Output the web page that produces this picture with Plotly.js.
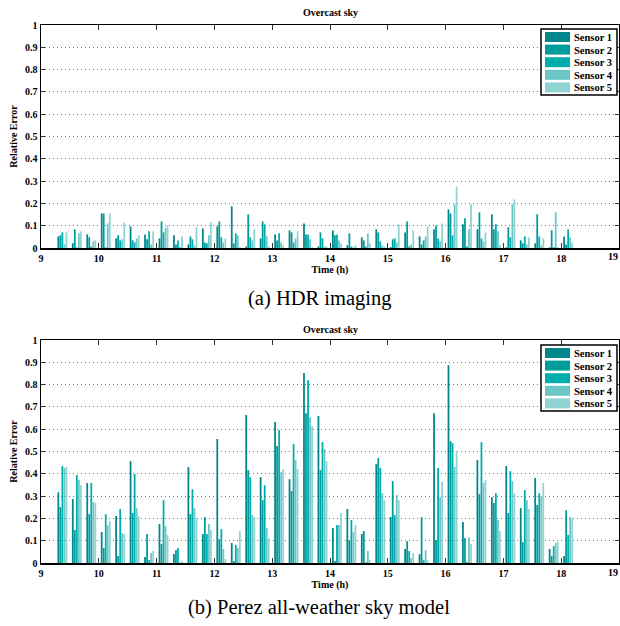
<!DOCTYPE html>
<html>
<head>
<meta charset="utf-8">
<script src="https://cdn.plot.ly/plotly-3.0.1.min.js"></script>
<style>html,body{margin:0;padding:0;background:#fff;}#chart{width:620px;height:626px;}</style>
</head>
<body>
<div id="chart"></div>
<script>
// ---- data ----
const times = [9.37, 9.62, 9.87, 10.12, 10.37, 10.62, 10.87, 11.12, 11.37, 11.62, 11.87, 12.12,
  12.37, 12.62, 12.87, 13.12, 13.37, 13.62, 13.87, 14.12, 14.37, 14.62, 14.87, 15.12,
  15.37, 15.62, 15.87, 16.12, 16.37, 16.62, 16.87, 17.12, 17.37, 17.62, 17.87, 18.12];

const sensorNames = ["Sensor 1", "Sensor 2", "Sensor 3", "Sensor 4", "Sensor 5"];

// (a) HDR imaging
const hdrS1 = [0.052,0.021,0.061,0.155,0.043,0.097,0.061,0.043,0.057,0.016,0.088,0.097,0.187,0.007,0.043,0.061,0.079,0.110,0.007,0.079,0.012,0.048,0.084,0.004,0.070,0.052,0.084,0.173,0.106,0.084,0.151,0.003,0.034,0.021,0.003,0.052];
const hdrS2 = [0.057,0.084,0.048,0.155,0.057,0.034,0.039,0.119,0.016,0.052,0.025,0.119,0.021,0.151,0.119,0.034,0.070,0.061,0.070,0.057,0.066,0.034,0.070,0.039,0.119,0.016,0.101,0.155,0.133,0.160,0.084,0.093,0.021,0.151,0.079,0.016];
const hdrS3 = [0.070,0.002,0.007,0.003,0.034,0.025,0.075,0.070,0.034,0.039,0.021,0.048,0.066,0.048,0.106,0.066,0.025,0.061,0.043,0.061,0.007,0.007,0.030,0.043,0.007,0.034,0.043,0.057,0.007,0.043,0.106,0.048,0.052,0.052,0.004,0.084];
const hdrS4 = [0.016,0.066,0.030,0.110,0.039,0.043,0.016,0.088,0.004,0.012,0.057,0.025,0.057,0.034,0.052,0.025,0.043,0.039,0.007,0.034,0.003,0.066,0.012,0.025,0.016,0.052,0.030,0.196,0.084,0.030,0.075,0.196,0.016,0.012,0.160,0.048];
const hdrS5 = [0.070,0.075,0.034,0.155,0.115,0.057,0.075,0.101,0.052,0.093,0.115,0.043,0.004,0.084,0.007,0.012,0.075,0.003,0.007,0.021,0.012,0.021,0.007,0.106,0.079,0.097,0.110,0.276,0.196,0.070,0.016,0.218,0.048,0.043,0.004,0.025];

// (b) Perez all-weather sky model
const perezS1 = [0.317,0.287,0.359,0.139,0.211,0.457,0.027,0.175,0.040,0.430,0.130,0.556,0.090,0.664,0.385,0.632,0.376,0.852,0.659,0.157,0.242,0.130,0.443,0.206,0.063,0.040,0.672,0.887,0.184,0.462,0.295,0.435,0.246,0.381,0.063,0.031];
const perezS2 = [0.251,0.148,0.219,0.067,0.031,0.224,0.130,0.085,0.058,0.219,0.206,0.107,0.009,0.417,0.282,0.525,0.323,0.672,0.417,0.009,0.103,0.143,0.471,0.367,0.098,0.206,0.103,0.547,0.112,0.309,0.269,0.224,0.094,0.260,0.031,0.237];
const perezS3 = [0.435,0.394,0.359,0.219,0.242,0.399,0.013,0.282,0.067,0.331,0.130,0.152,0.081,0.385,0.349,0.596,0.533,0.820,0.542,0.170,0.193,0.003,0.426,0.215,0.054,0.013,0.426,0.538,0.004,0.542,0.313,0.412,0.327,0.313,0.076,0.126];
const perezS4 = [0.426,0.372,0.273,0.170,0.134,0.246,0.045,0.165,0.002,0.246,0.175,0.063,0.067,0.215,0.157,0.408,0.462,0.654,0.511,0.170,0.139,0.054,0.313,0.305,0.022,0.058,0.295,0.430,0.116,0.359,0.193,0.367,0.282,0.300,0.090,0.206];
const perezS5 = [0.430,0.349,0.269,0.188,0.130,0.211,0.054,0.126,0.009,0.201,0.148,0.018,0.143,0.206,0.112,0.421,0.421,0.614,0.457,0.224,0.170,0.013,0.282,0.282,0.045,0.013,0.363,0.502,0.085,0.372,0.143,0.313,0.242,0.359,0.094,0.201];

const yTickVals = [0,0.1,0.2,0.3,0.4,0.5,0.6,0.7,0.8,0.9,1];
const xTickVals = [9,10,11,12,13,14,15,16,17,18,19];

// ---- styles ----
const colors = ["#00868b", "#009c9c", "#00adad", "#6cc6c6", "#8fd3d3"];
const SERIF = "Liberation Serif, Times New Roman, serif";
const W = 620, H = 626;
const X = p => p / W;
const Y = p => 1 - p / H;

const hdr = [hdrS1, hdrS2, hdrS3, hdrS4, hdrS5];
const perez = [perezS1, perezS2, perezS3, perezS4, perezS5];

const traces = [];
hdr.forEach((vals, i) => traces.push({
  type: "bar", x: times, y: vals, name: sensorNames[i], xaxis: "x", yaxis: "y",
  marker: {color: colors[i], line: {width: 0}}, showlegend: false
}));
perez.forEach((vals, i) => traces.push({
  type: "bar", x: times, y: vals, name: sensorNames[i], xaxis: "x2", yaxis: "y2",
  marker: {color: colors[i], line: {width: 0}}, showlegend: false
}));

const tickFont = {family: SERIF, size: 10, color: "#000", weight: "bold"};
function xAxis(anchor, dom) {
  return {
    domain: dom, anchor: anchor, range: [9, 19], tickvals: xTickVals,
    showline: true, linecolor: "#000", linewidth: 1.5, mirror: "ticks",
    ticks: "inside", ticklen: 5, tickwidth: 1, tickcolor: "#333",
    tickfont: tickFont, showgrid: false, zeroline: false,
    title: {text: "Time (h)", font: {family: SERIF, size: 10, color: "#000", weight: "bold"}, standoff: 2}
  };
}
function yAxis(anchor, dom) {
  return {
    domain: dom, anchor: anchor, range: [0, 1], tickvals: yTickVals,
    showline: true, linecolor: "#000", linewidth: 1.5, mirror: "ticks",
    ticks: "inside", ticklen: 4, tickwidth: 1, tickcolor: "#333",
    tickfont: tickFont, showgrid: true, gridcolor: "#777", griddash: "1px,3px", gridwidth: 1,
    zeroline: false,
    title: {text: "Relative Error", font: {family: SERIF, size: 10, color: "#000", weight: "bold"}, standoff: 5}
  };
}

const xDom = [X(41), X(619)];
const layout = {
  width: W, height: H,
  margin: {l: 0, r: 0, t: 0, b: 0},
  paper_bgcolor: "#fff", plot_bgcolor: "#fff",
  barmode: "group", bargap: 0.3, bargroupgap: 0.12,
  showlegend: false,
  xaxis: xAxis("y", xDom),
  yaxis: yAxis("x", [Y(248), Y(25)]),
  xaxis2: xAxis("y2", xDom),
  yaxis2: yAxis("x2", [Y(563), Y(340)]),
  annotations: [], shapes: []
};

// panel titles and captions
[[13, "Overcast sky"], [329, "Overcast sky"]].forEach(([yp, t]) => layout.annotations.push({
  xref: "paper", yref: "paper", x: X(330), y: Y(yp), text: t, showarrow: false,
  xanchor: "center", yanchor: "middle", font: {family: SERIF, size: 10, color: "#000", weight: "bold"}
}));
[[298, "(a) HDR imaging"], [607, "(b) Perez all-weather sky model"]].forEach(([yp, t]) => layout.annotations.push({
  xref: "paper", yref: "paper", x: X(319), y: Y(yp), text: t, showarrow: false,
  xanchor: "center", yanchor: "middle", font: {family: SERIF, size: 20.5, color: "#000"}
}));
// last tick label (19), kept fully inside the figure at its right edge
[[257], [572]].forEach(([yp]) => layout.annotations.push({
  xref: "paper", yref: "paper", x: X(620), y: Y(yp), text: String(xTickVals[xTickVals.length - 1]),
  showarrow: false, xanchor: "right", yanchor: "middle", font: tickFont
}));

// legend boxes
function addLegend(top) {
  layout.shapes.push({type: "rect", xref: "paper", yref: "paper",
    x0: X(541), x1: X(617), y0: Y(top + 66), y1: Y(top),
    line: {color: "#000", width: 1.5}, fillcolor: "#fff", layer: "above"});
  sensorNames.forEach((nm, k) => {
    const ry = top + 3 + 12.6 * k;
    layout.shapes.push({type: "rect", xref: "paper", yref: "paper",
      x0: X(545), x1: X(570), y0: Y(ry + 10), y1: Y(ry),
      line: {width: 0}, fillcolor: colors[k], layer: "above"});
    layout.annotations.push({xref: "paper", yref: "paper", x: X(572), y: Y(ry + 5.5),
      text: nm, showarrow: false, xanchor: "left", yanchor: "middle",
      font: {family: SERIF, size: 10.5, color: "#000", weight: "bold"}});
  });
}
addLegend(29);
addLegend(345);

Plotly.newPlot("chart", traces, layout, {staticPlot: true, displayModeBar: false});
</script>
</body>
</html>
